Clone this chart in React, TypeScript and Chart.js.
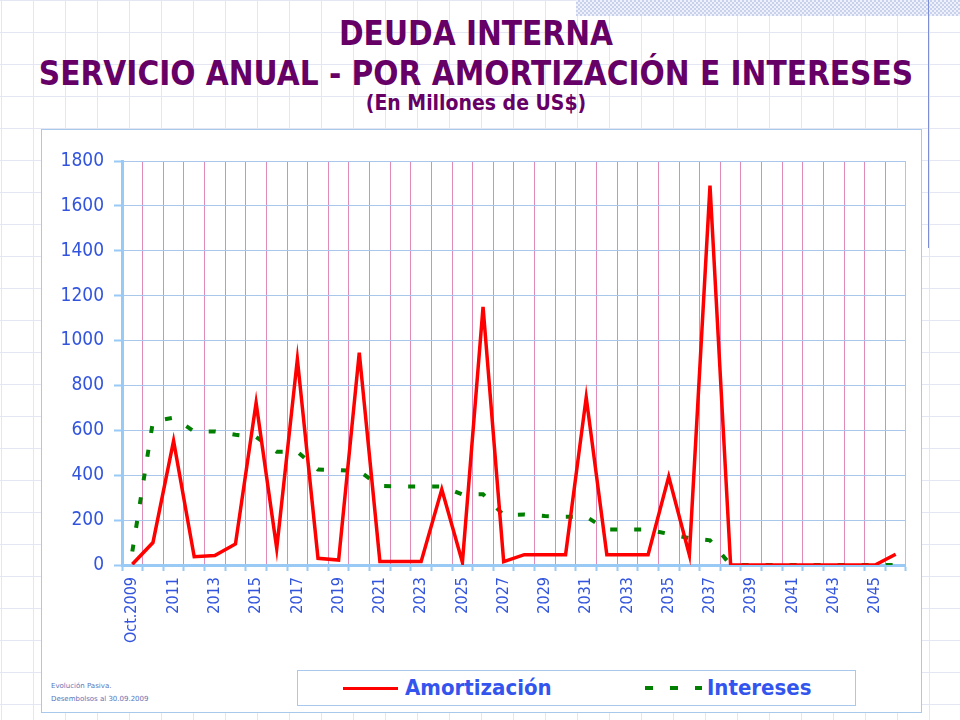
import React, { useEffect, useRef } from "react";
import { Chart, registerables } from "chart.js";

Chart.register(...registerables);

const years = [
  "Oct.2009", "2010", "2011", "2012", "2013", "2014", "2015", "2016", "2017", "2018",
  "2019", "2020", "2021", "2022", "2023", "2024", "2025", "2026", "2027", "2028",
  "2029", "2030", "2031", "2032", "2033", "2034", "2035", "2036", "2037", "2038",
  "2039", "2040", "2041", "2042", "2043", "2044", "2045", "2046",
];

const amortizacion = [
  3, 100, 553, 37, 42, 94, 723, 74, 917, 30,
  22, 946, 16, 16, 16, 337, 12, 1150, 15, 46,
  46, 46, 747, 46, 46, 46, 394, 45, 1690, 0,
  0, 0, 0, 0, 0, 0, 0, 48,
];

const intereses = [
  60, 640, 656, 595, 595, 580, 570, 505, 505, 425,
  423, 418, 352, 350, 350, 350, 314, 315, 222, 225,
  218, 215, 215, 158, 158, 158, 138, 120, 110, 0,
  0, 0, 0, 0, 0, 0, 0, 0,
];

const yTicks = [0, 200, 400, 600, 800, 1000, 1200, 1400, 1600, 1800];

const TICK_BLUE = "#3355dd";
const AXIS_BLUE = "#99c9f5";
const GRID_BLUE = "#a9c7ea";
const GRID_PINK = "#e08ab8";
const RED = "#ff0000";
const GREEN = "#007f00";
const FONT = "'DejaVu Sans Condensed', 'DejaVu Sans', sans-serif";

const CANVAS_W = 879;
const CANVAS_H = 540;

export default function App() {
  const canvasRef = useRef<HTMLCanvasElement | null>(null);

  useEffect(() => {
    if (!canvasRef.current) return;
    const chart = new Chart(canvasRef.current, {
      type: "line",
      data: {
        labels: years,
        datasets: [
          {
            label: "Amortización",
            data: amortizacion,
            borderColor: RED,
            backgroundColor: RED,
            borderWidth: 3.5,
            pointRadius: 0,
            tension: 0,
            fill: false,
          },
          {
            label: "Intereses",
            data: intereses,
            borderColor: GREEN,
            backgroundColor: GREEN,
            borderWidth: 4,
            borderDash: [7, 17],
            borderCapStyle: "butt",
            pointRadius: 0,
            tension: 0,
            fill: false,
          },
        ],
      },
      options: {
        animation: false,
        responsive: true,
        maintainAspectRatio: false,
        devicePixelRatio: 1,
        layout: { padding: { top: 31, right: 9, left: 0, bottom: 0 } },
        plugins: {
          legend: { display: false },
          title: { display: false },
          tooltip: { enabled: false },
        },
        scales: {
          x: {
            type: "category",
            offset: true,
            afterFit: (scale: any) => {
              scale.height = 105;
            },
            grid: {
              offset: true,
              color: (ctx: any) => (ctx.type === "tick" ? GRID_PINK : GRID_BLUE),
              lineWidth: 1,
              drawTicks: true,
              tickLength: 6,
              tickColor: AXIS_BLUE,
              tickWidth: 2,
            },
            border: { display: true, color: AXIS_BLUE, width: 3 },
            ticks: {
              autoSkip: false,
              minRotation: 90,
              maxRotation: 90,
              padding: 6,
              color: TICK_BLUE,
              font: { family: FONT, size: 16 },
              callback: function (this: any, value: any, index: number) {
                return index % 2 === 0 ? years[index] : "";
              },
            },
          },
          y: {
            min: 0,
            max: 1800,
            afterFit: (scale: any) => {
              scale.width = 80;
            },
            afterBuildTicks: (scale: any) => {
              scale.ticks = yTicks.map((v) => ({ value: v }));
            },
            grid: {
              color: GRID_BLUE,
              lineWidth: 1,
              drawTicks: true,
              tickLength: 8,
              tickColor: AXIS_BLUE,
              tickWidth: 2,
            },
            border: { display: true, color: AXIS_BLUE, width: 3 },
            ticks: {
              padding: 10,
              color: TICK_BLUE,
              font: { family: FONT, size: 19 },
              callback: (value: any) => String(value),
            },
          },
        },
      },
    });
    return () => chart.destroy();
  }, []);

  const page: React.CSSProperties = {
    position: "fixed",
    left: 0,
    top: 0,
    width: 960,
    height: 720,
    overflow: "hidden",
    backgroundColor: "#ffffff",
    backgroundImage:
      "linear-gradient(to right, #e4e7f3 1px, transparent 1px), linear-gradient(to bottom, #e4e7f3 1px, transparent 1px)",
    backgroundSize: "32px 32px",
    backgroundPosition: "1px 0px",
    fontFamily: FONT,
  };

  const titleStyle: React.CSSProperties = {
    position: "absolute",
    left: 0,
    width: 952,
    textAlign: "center",
    color: "#660066",
    fontWeight: "bold",
    whiteSpace: "nowrap",
  };

  const legendText: React.CSSProperties = {
    position: "absolute",
    top: 4,
    fontSize: 22,
    lineHeight: "26px",
    fontWeight: "bold",
    color: "#3355ee",
    whiteSpace: "nowrap",
  };

  return (
    <div style={page}>
      <div
        style={{
          position: "absolute",
          left: 576,
          top: 0,
          width: 384,
          height: 16,
          backgroundImage: "repeating-conic-gradient(#c9d2ec 0 25%, #eef1f9 0 50%)",
          backgroundSize: "4px 4px",
        }}
      />
      <div
        style={{
          position: "absolute",
          left: 928,
          top: 0,
          width: 1,
          height: 248,
          background: "#7d8ed4",
        }}
      />
      <div style={{ ...titleStyle, top: 17, fontSize: 33, lineHeight: "33px" }}>DEUDA INTERNA</div>
      <div style={{ ...titleStyle, top: 57, fontSize: 33, lineHeight: "33px" }}>
        SERVICIO ANUAL - POR AMORTIZACIÓN E INTERESES
      </div>
      <div style={{ ...titleStyle, top: 93, fontSize: 21, lineHeight: "21px" }}>(En Millones de US$)</div>

      <div
        style={{
          position: "absolute",
          left: 41,
          top: 129,
          width: 881,
          height: 584,
          boxSizing: "border-box",
          border: "1px solid #a9c9ec",
          background: "#ffffff",
        }}
      >
        <div style={{ position: "absolute", left: 0, top: 0, width: CANVAS_W, height: CANVAS_H }}>
          <canvas ref={canvasRef} />
        </div>
        <div
          style={{
            position: "absolute",
            left: 9,
            top: 550,
            fontSize: 7,
            lineHeight: "13px",
            color: "#5a74b8",
            fontFamily: "'DejaVu Sans', sans-serif",
          }}
        >
          <div>Evolución Pasiva.</div>
          <div>Desembolsos al 30.09.2009</div>
        </div>
      </div>

      <div
        style={{
          position: "absolute",
          left: 297,
          top: 670,
          width: 559,
          height: 36,
          boxSizing: "border-box",
          border: "1px solid #a9c9ec",
          background: "#ffffff",
        }}
      >
        <div style={{ position: "absolute", left: 45, top: 16, width: 55, height: 3, background: RED }} />
        <div style={{ ...legendText, left: 107 }}>Amortización</div>
        <div
          style={{
            position: "absolute",
            left: 347,
            top: 15,
            width: 57,
            height: 4,
            backgroundImage: `repeating-linear-gradient(to right, ${GREEN} 0px, ${GREEN} 8px, transparent 8px, transparent 25px)`,
          }}
        />
        <div style={{ ...legendText, left: 409 }}>Intereses</div>
      </div>
    </div>
  );
}
